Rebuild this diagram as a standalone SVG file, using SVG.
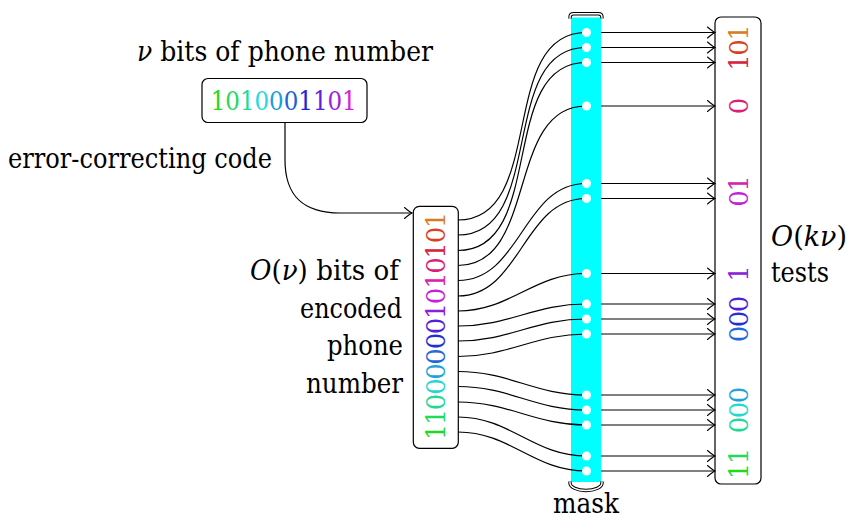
<svg xmlns="http://www.w3.org/2000/svg" width="848" height="519" viewBox="0 0 848 519">
<style>
text{font-family:'DejaVu Serif','Noto Serif','Liberation Serif',Tinos,FreeSerif,'Nimbus Roman',serif}
.lbl{font-size:28px;fill:#000}
.bit{font-size:26px;text-anchor:middle}
.it{font-style:italic}
.box{fill:#fff;stroke:#000;stroke-width:1.2}
.wire{fill:none;stroke:#000;stroke-width:1.2}
.arr{fill:none;stroke:#000;stroke-width:1.2;marker-end:url(#to)}
.dot{fill:#fff}
.capb{fill:none;stroke:#000;stroke-width:3.4}
.capw{fill:none;stroke:#fff;stroke-width:1.4}
</style>
<defs>
<marker id="to" viewBox="-10 -8 12 16" markerWidth="12" markerHeight="16" refX="0" refY="0" orient="auto" markerUnits="userSpaceOnUse">
<path d="M-7.5,-5.5 Q-2.5,-1.2 0,0 Q-2.5,1.2 -7.5,5.5" fill="none" stroke="#000" stroke-width="1.1" stroke-linecap="round"/>
</marker>
<linearGradient id="digits" gradientUnits="userSpaceOnUse" x1="210.7" y1="0" x2="356.7" y2="0">
<stop offset="0" stop-color="#21D921"/><stop offset="0.1" stop-color="#21D921"/>
<stop offset="0.1" stop-color="#21D95E"/><stop offset="0.2" stop-color="#21D95E"/>
<stop offset="0.2" stop-color="#21D99C"/><stop offset="0.3" stop-color="#21D99C"/>
<stop offset="0.3" stop-color="#21D9D9"/><stop offset="0.4" stop-color="#21D9D9"/>
<stop offset="0.4" stop-color="#219CD9"/><stop offset="0.5" stop-color="#219CD9"/>
<stop offset="0.5" stop-color="#215ED9"/><stop offset="0.6" stop-color="#215ED9"/>
<stop offset="0.6" stop-color="#2121D9"/><stop offset="0.7" stop-color="#2121D9"/>
<stop offset="0.7" stop-color="#5E21D9"/><stop offset="0.8" stop-color="#5E21D9"/>
<stop offset="0.8" stop-color="#9C21D9"/><stop offset="0.9" stop-color="#9C21D9"/>
<stop offset="0.9" stop-color="#D921D9"/><stop offset="1" stop-color="#D921D9"/>
</linearGradient>
</defs>

<g id="title">
<text class="lbl" x="137" y="61" textLength="296" lengthAdjust="spacingAndGlyphs"><tspan class="it">ν</tspan> bits of phone number</text>
</g>

<g id="phone-number">
<rect class="box" x="202" y="78.5" width="165" height="44" rx="6"/>
<text x="210.7" y="109.5" font-size="26" fill="url(#digits)" textLength="146" lengthAdjust="spacingAndGlyphs">1010001101</text>
</g>

<g id="ecc-label">
<text class="lbl" x="8" y="168" textLength="264" lengthAdjust="spacingAndGlyphs">error-correcting code</text>
</g>

<g id="encoded-label">
<text class="lbl" x="250" y="280" textLength="149" lengthAdjust="spacingAndGlyphs"><tspan class="it">O</tspan>(<tspan class="it">ν</tspan>) bits of</text>
<text class="lbl" x="300" y="317.5" textLength="102" lengthAdjust="spacingAndGlyphs">encoded</text>
<text class="lbl" x="327" y="355" textLength="76" lengthAdjust="spacingAndGlyphs">phone</text>
<text class="lbl" x="306" y="392.5" textLength="97" lengthAdjust="spacingAndGlyphs">number</text>
</g>

<g id="mask">
<rect x="571" y="17.5" width="30" height="464.5" fill="#00FFFF"/>
<path class="capb" d="M570,18.5 V17.5 Q570,13.8 573.7,13.8 H598.3 Q602,13.8 602,17.5 V18.5"/>
<path class="capw" d="M570,18.5 V17.5 Q570,13.8 573.7,13.8 H598.3 Q602,13.8 602,17.5 V18.5"/>
<path class="capb" d="M570,481.5 V483 A16,7.5 0 0 0 602,483 V481.5"/>
<path class="capw" d="M570,481.5 V483 A16,7.5 0 0 0 602,483 V481.5"/>
<text class="lbl" x="553" y="513" textLength="66" lengthAdjust="spacingAndGlyphs">mask</text>
</g>

<g id="encoded">
<rect class="box" x="413.3" y="206.3" width="45" height="242" rx="6"/>
<text class="bit" transform="rotate(-90)" y="445"><tspan x="-220" fill="#D97D21">1</tspan><tspan x="-235" fill="#D94221">0</tspan><tspan x="-250.5" fill="#D9213B">1</tspan><tspan x="-265.5" fill="#D92177">0</tspan><tspan x="-280.5" fill="#D921B1">1</tspan><tspan x="-296" fill="#C521D9">0</tspan><tspan x="-311" fill="#8A21D9">1</tspan><tspan x="-326" fill="#4F21D9">0</tspan><tspan x="-341" fill="#212ED9">0</tspan><tspan x="-356.5" fill="#2169D9">0</tspan><tspan x="-371.5" fill="#21A5D9">0</tspan><tspan x="-386.5" fill="#21D9D3">0</tspan><tspan x="-402" fill="#21D997">0</tspan><tspan x="-417" fill="#21D95C">1</tspan><tspan x="-432" fill="#21D921">1</tspan></text>
</g>

<g id="tests">
<rect class="box" x="715" y="17" width="46" height="467" rx="6"/>
<text class="bit" transform="rotate(-90)" y="747.5"><tspan x="-32.5" fill="#D97D21">1</tspan><tspan x="-47.5" fill="#D94221">0</tspan><tspan x="-62.5" fill="#D9213B">1</tspan><tspan x="-106" fill="#D92177">0</tspan><tspan x="-183.5" fill="#D921B1">1</tspan><tspan x="-198.5" fill="#C521D9">0</tspan><tspan x="-273.5" fill="#8A21D9">1</tspan><tspan x="-304" fill="#4F21D9">0</tspan><tspan x="-319" fill="#212ED9">0</tspan><tspan x="-334" fill="#2169D9">0</tspan><tspan x="-395" fill="#21A5D9">0</tspan><tspan x="-410" fill="#21D9D3">0</tspan><tspan x="-425" fill="#21D997">0</tspan><tspan x="-456" fill="#21D95C">1</tspan><tspan x="-471" fill="#21D921">1</tspan></text>
</g>

<g id="tests-label">
<text class="lbl" x="771" y="246" textLength="76" lengthAdjust="spacingAndGlyphs"><tspan class="it">O</tspan>(<tspan class="it">kν</tspan>)</text>
<text class="lbl" x="771" y="282" textLength="58" lengthAdjust="spacingAndGlyphs">tests</text>
</g>

<g id="connectors">
<path class="arr" d="M285,122.5 L285,160 C285,196 303,213 340,213 L412,213"/>
<path class="wire" d="M458,220 C546.9,220 497.1,32.5 586,32.5"/>
<path class="wire" d="M458,235 C546.9,235 497.1,47.5 586,47.5"/>
<path class="wire" d="M458,250.5 C547,250.5 497,62.5 586,62.5"/>
<path class="wire" d="M458,265.5 C538,265.5 506,106 586,106"/>
<path class="wire" d="M458,280.5 C521,280.5 523,183.5 586,183.5"/>
<path class="wire" d="M458,296 C521,296 523,198.5 586,198.5"/>
<path class="wire" d="M458,311 C510,311 534,273.5 586,273.5"/>
<path class="wire" d="M458,326 C509,326 535,304 586,304"/>
<path class="wire" d="M458,341 C509,341 535,319 586,319"/>
<path class="wire" d="M458,356.5 C509,356.5 535,334 586,334"/>
<path class="wire" d="M458,371.5 C509,371.5 535,395 586,395"/>
<path class="wire" d="M458,386.5 C509,386.5 535,410 586,410"/>
<path class="wire" d="M458,402 C509,402 535,425 586,425"/>
<path class="wire" d="M458,417 C510.4,417 533.6,456 586,456"/>
<path class="wire" d="M458,432 C510.4,432 533.6,471 586,471"/>
<path class="arr" d="M601,32.5 H715"/>
<path class="arr" d="M601,47.5 H715"/>
<path class="arr" d="M601,62.5 H715"/>
<path class="arr" d="M601,106 H715"/>
<path class="arr" d="M601,183.5 H715"/>
<path class="arr" d="M601,198.5 H715"/>
<path class="arr" d="M601,273.5 H715"/>
<path class="arr" d="M601,304 H715"/>
<path class="arr" d="M601,319 H715"/>
<path class="arr" d="M601,334 H715"/>
<path class="arr" d="M601,395 H715"/>
<path class="arr" d="M601,410 H715"/>
<path class="arr" d="M601,425 H715"/>
<path class="arr" d="M601,456 H715"/>
<path class="arr" d="M601,471 H715"/>
</g>

<g id="mask-dots">
<circle class="dot" cx="586.5" cy="32.5" r="4.5"/>
<circle class="dot" cx="586.5" cy="47.5" r="4.5"/>
<circle class="dot" cx="586.5" cy="62.5" r="4.5"/>
<circle class="dot" cx="586.5" cy="106" r="4.5"/>
<circle class="dot" cx="586.5" cy="183.5" r="4.5"/>
<circle class="dot" cx="586.5" cy="198.5" r="4.5"/>
<circle class="dot" cx="586.5" cy="273.5" r="4.5"/>
<circle class="dot" cx="586.5" cy="304" r="4.5"/>
<circle class="dot" cx="586.5" cy="319" r="4.5"/>
<circle class="dot" cx="586.5" cy="334" r="4.5"/>
<circle class="dot" cx="586.5" cy="395" r="4.5"/>
<circle class="dot" cx="586.5" cy="410" r="4.5"/>
<circle class="dot" cx="586.5" cy="425" r="4.5"/>
<circle class="dot" cx="586.5" cy="456" r="4.5"/>
<circle class="dot" cx="586.5" cy="471" r="4.5"/>
</g>
</svg>
